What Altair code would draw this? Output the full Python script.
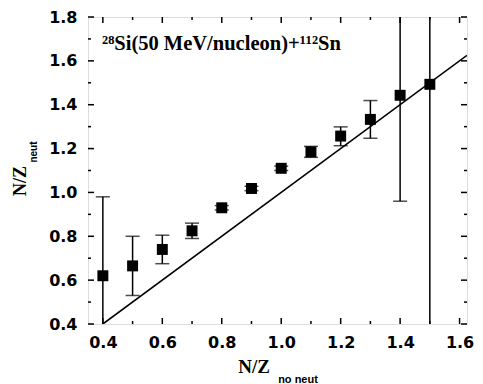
import altair as alt
import pandas as pd

# data
x_vals = [0.4, 0.5, 0.6, 0.7, 0.8, 0.9, 1.0, 1.1, 1.2, 1.3, 1.4, 1.5]
y_vals = [0.62, 0.665, 0.74, 0.825, 0.93, 1.018, 1.11, 1.185, 1.257, 1.333, 1.443, 1.493]
y_lo = [0.26, 0.53, 0.675, 0.79, 0.92, 1.008, 1.10, 1.16, 1.213, 1.247, 0.96, 0.0]
y_hi = [0.98, 0.80, 0.805, 0.86, 0.94, 1.028, 1.12, 1.21, 1.299, 1.419, 1.93, 3.0]
line_x = [0.4, 1.625]
line_y = [0.4, 1.625]
x_major = [0.4, 0.6, 0.8, 1.0, 1.2, 1.4, 1.6]
x_minor = [0.5, 0.7, 0.9, 1.1, 1.3, 1.5]
y_major = [0.4, 0.6, 0.8, 1.0, 1.2, 1.4, 1.6, 1.8]
y_minor = [0.5, 0.7, 0.9, 1.1, 1.3, 1.5, 1.7]
annotation = "²⁸Si(50 MeV/nucleon)+¹¹²Sn"

W, H = 379, 307
xs = alt.Scale(domain=[0.35, 1.625], nice=False, zero=False)
ys = alt.Scale(domain=[0.4, 1.8], nice=False, zero=False)

df = pd.DataFrame({"x": x_vals, "y": y_vals, "lo": y_lo, "hi": y_hi})
ldf = pd.DataFrame({"x": line_x, "y": line_y})

axis_common = dict(ticks=False, domain=False, grid=False, labelFont="DejaVu Sans",
                   labelFontWeight="bold", labelFontSize=16, labelColor="black", title=None)

base = alt.Chart(df)

points = base.mark_square(size=120, color="black", opacity=1).encode(
    x=alt.X("x:Q", scale=xs, axis=alt.Axis(values=x_major, format=".1f", labelPadding=10, **axis_common)),
    y=alt.Y("y:Q", scale=ys, axis=alt.Axis(values=y_major, format=".1f", labelPadding=11, **axis_common)),
)

bars = base.mark_rule(color="black", strokeWidth=1.5, clip=True).encode(
    x="x:Q", y="lo:Q", y2="hi:Q")
cap_hi = base.mark_tick(color="black", orient="horizontal", size=14, thickness=1.5, clip=True).encode(
    x="x:Q", y="hi:Q")
cap_lo = base.mark_tick(color="black", orient="horizontal", size=14, thickness=1.5, clip=True).encode(
    x="x:Q", y="lo:Q")

line = alt.Chart(ldf).mark_line(color="black", strokeWidth=1.6, clip=True).encode(x="x:Q", y="y:Q")

def xticks(vals, length):
    d = pd.DataFrame({"t": vals})
    bot = alt.Chart(d).mark_rule(color="black", strokeWidth=1.5).encode(
        x=alt.X("t:Q"), y=alt.value(H), y2=alt.value(H - length))
    top = alt.Chart(d).mark_rule(color="black", strokeWidth=1.5).encode(
        x=alt.X("t:Q"), y=alt.value(0), y2=alt.value(length))
    return [bot, top]

def yticks(vals, length):
    d = pd.DataFrame({"t": vals})
    left = alt.Chart(d).mark_rule(color="black", strokeWidth=1.5).encode(
        y=alt.Y("t:Q"), x=alt.value(0), x2=alt.value(length))
    right = alt.Chart(d).mark_rule(color="black", strokeWidth=1.5).encode(
        y=alt.Y("t:Q"), x=alt.value(W), x2=alt.value(W - length))
    return [left, right]

ticks = xticks(x_major, 6) + xticks(x_minor, 3) + yticks(y_major, 6) + yticks(y_minor, 3)

ann = alt.Chart(pd.DataFrame({"t": [annotation]})).mark_text(
    font="Liberation Serif", fontWeight="bold", fontSize=20.5, align="left", baseline="middle", color="black"
).encode(x=alt.value(14), y=alt.value(27), text="t:N")

title_font = "Liberation Serif"
xt = alt.Chart(pd.DataFrame({"t": ["N/Z"]})).mark_text(
    font=title_font, fontWeight="bold", fontSize=19, align="center", baseline="middle", color="black"
).encode(x=alt.value(166), y=alt.value(350), text="t:N")
xsub = alt.Chart(pd.DataFrame({"t": ["no neut"]})).mark_text(
    font="Liberation Sans", fontWeight="bold", fontSize=11, align="center", baseline="middle", color="black"
).encode(x=alt.value(210), y=alt.value(363), text="t:N")
yt = alt.Chart(pd.DataFrame({"t": ["N/Z"]})).mark_text(
    font=title_font, fontWeight="bold", fontSize=18, align="center", baseline="middle", color="black", angle=270
).encode(x=alt.value(-67), y=alt.value(164), text="t:N")
ysub = alt.Chart(pd.DataFrame({"t": ["neut"]})).mark_text(
    font="Liberation Sans", fontWeight="bold", fontSize=10, align="center", baseline="middle", color="black", angle=270
).encode(x=alt.value(-54), y=alt.value(135), text="t:N")

chart = alt.layer(line, bars, cap_hi, cap_lo, points, *ticks, ann, xt, xsub, yt, ysub).properties(
    width=W, height=H,
    autosize=alt.AutoSizeParams(type="none"),
    padding={"left": 80, "top": 9, "right": 8, "bottom": 60},
).configure_view(stroke="black", strokeWidth=2).configure(background="white")

chart.save("out.html", embed_options={"renderer": "svg", "actions": False})
